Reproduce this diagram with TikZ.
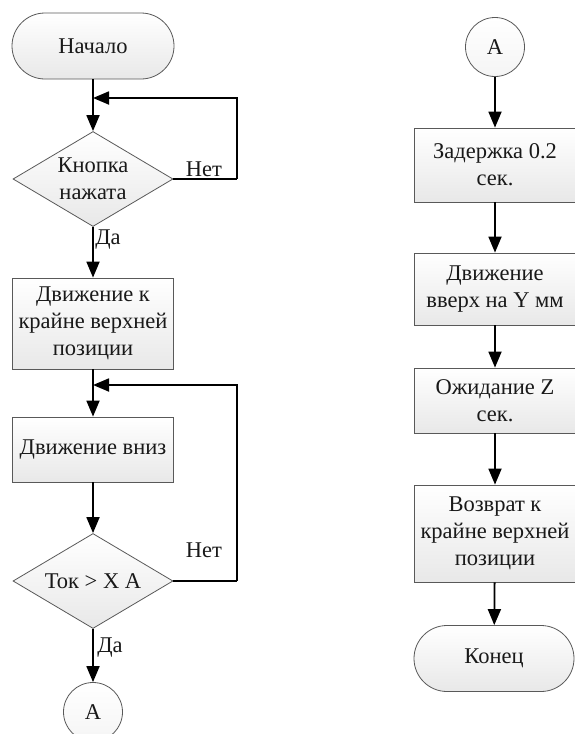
\documentclass[tikz,border=0pt]{standalone}
\usepackage{fontspec}
\setmainfont{Liberation Serif}
\usetikzlibrary{shapes.geometric,arrows.meta}
\begin{document}
\begin{tikzpicture}[x=1pt,y=-1pt,
 shp/.style={draw=black!65, line width=0.8pt, top color=white, bottom color=black!9, font=\fontsize{22.5}{27}\selectfont, align=center, inner sep=0pt, text=black!90},
 proc/.style={shp, rectangle, minimum width=161pt},
 term/.style={shp, rectangle, rounded corners=33pt, minimum width=162pt, minimum height=66pt},
 dec/.style={shp, diamond, aspect=1.68, minimum width=160pt, minimum height=95pt},
 conn/.style={shp, circle, minimum size=59pt, top color=white, bottom color=black!4},
 arr/.style={line width=1.8pt, -{Triangle[width=13pt,length=16pt]}},
 ln/.style={line width=1.8pt},
 lbl/.style={font=\fontsize{22.5}{26}\selectfont, inner sep=0pt, text=black!90}
]
\useasboundingbox (0,0) rectangle (575,734);
\fill[white] (0,0) rectangle (575,734);
% left column
\node[term] (start) at (93,46) {Начало};
\node[dec] (d1) at (93,179) {Кнопка\\нажата};
\node[proc, minimum height=91pt] (b1) at (93,323.5) {Движение к\\крайне верхней\\позиции};
\node[proc, minimum height=65pt] (b2) at (93,449.5) {Движение вниз};
\node[dec] (d2) at (93,581) {Ток > X A};
\node[conn] (a1) at (93,712) {A};
\coordinate (j1) at (93,98);
\coordinate (r1) at (237,179);
\coordinate (j2) at (93,385);
\coordinate (r2) at (237,581);
\draw[arr] (start) -- (d1);
\draw[ln] (d1.east) -- (r1);
\draw[arr] (r1) |- (j1);
\draw[arr] (d1) -- (b1);
\draw[arr] (b1) -- (b2);
\draw[ln] (d2.east) -- (r2);
\draw[arr] (r2) |- (j2);
\draw[arr] (b2) -- (d2);
\draw[arr] (d2) -- (a1);
\node[lbl] (n1) at (204,169) {Нет};
\node[lbl] (y1) at (108,240) {Да};
\node[lbl] (n2) at (204,550) {Нет};
\node[lbl] (y2) at (110,648) {Да};
% right column
\node[conn] (a2) at (495,47) {A};
\node[proc, minimum height=74pt] (c1) at (495,165) {Задержка 0.2\\сек.};
\node[proc, minimum height=72pt] (c2) at (495,289) {Движение\\вверх на Y мм};
\node[proc, minimum height=65pt] (c3) at (495,400.5) {Ожидание Z\\сек.};
\node[proc, minimum height=97pt] (c4) at (495,533.5) {Возврат к\\крайне верхней\\позиции};
\node[term, minimum width=160pt] (stop) at (494,658.5) {Конец};
\draw[arr] (a2) -- (c1);
\draw[arr] (c1) -- (c2);
\draw[arr] (c2) -- (c3);
\draw[arr] (c3) -- (c4);
\draw[arr] (c4) -- (stop);
\end{tikzpicture}
\end{document}
